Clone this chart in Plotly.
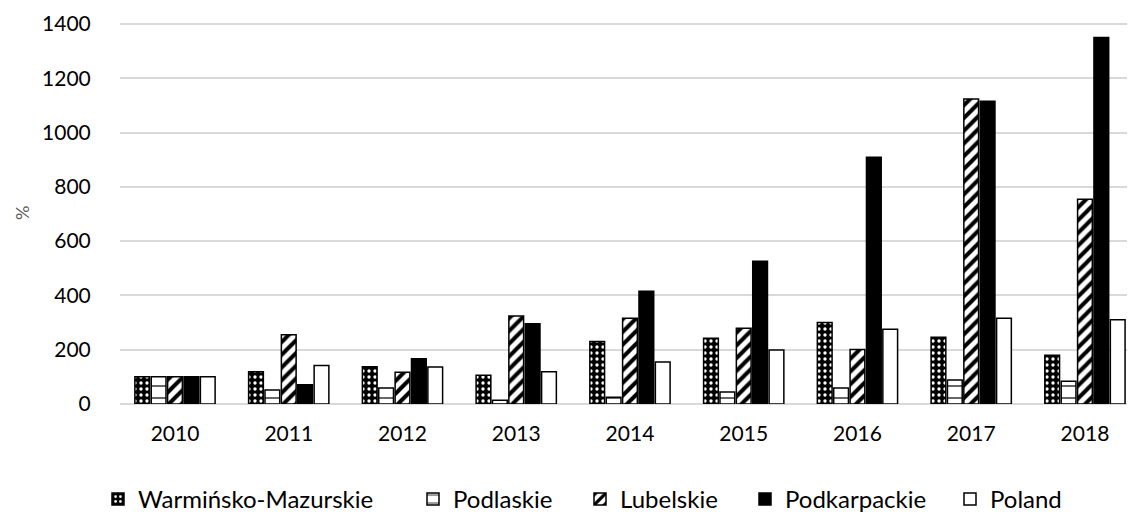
import plotly.graph_objects as go

years = ["2010", "2011", "2012", "2013", "2014", "2015", "2016", "2017", "2018"]
warminsko = [100, 119, 137, 106, 230, 242, 300, 246, 180]
podlaskie = [100, 52, 59, 14, 25, 44, 59, 88, 84]
lubelskie = [100, 255, 117, 324, 316, 279, 201, 1124, 754]
podkarpackie = [100, 71, 167, 296, 415, 526, 909, 1115, 1350]
poland = [100, 142, 136, 119, 155, 199, 275, 316, 310]

FONT = "Lato"
PLOT_W = 1015
PLOT_H = 384

series = [
    ("Warmińsko-Mazurskie", warminsko, dict(shape=".", bgcolor="black", fgcolor="white", size=6, solidity=0.25, fillmode="replace"), "black"),
    ("Podlaskie", podlaskie, dict(shape="-", bgcolor="white", fgcolor="black", size=12, solidity=0.1, fillmode="replace"), "white"),
    ("Lubelskie", lubelskie, dict(shape="/", bgcolor="white", fgcolor="black", size=9, solidity=0.45, fillmode="replace"), "white"),
    ("Podkarpackie", podkarpackie, None, "black"),
    ("Poland", poland, None, "white"),
]
# legend text left positions (screen px) of the reference
legend_text_x = [138, 453, 620, 785, 990]
legend_names = ["legend", "legend2", "legend3", "legend4", "legend5"]

fig = go.Figure()
for (name, vals, pat, col), lg in zip(series, legend_names):
    marker = dict(color=col, line=dict(color="black", width=1.5))
    if pat:
        marker["pattern"] = pat
    fig.add_trace(go.Bar(x=list(range(len(years))), y=vals, name=name, marker=marker, legend=lg))

legend_layout = {}
for lg, tx in zip(legend_names, legend_text_x):
    legend_layout[lg] = dict(orientation="h", xanchor="left", x=(tx - 40 - 120) / PLOT_W,
                             y=-0.19, yanchor="top", font=dict(size=24, family=FONT),
                             itemwidth=30, bgcolor="rgba(0,0,0,0)")

fig.update_layout(
    width=1127, height=507,
    margin=dict(l=112, r=0, t=12, b=111, autoexpand=False),
    paper_bgcolor="white", plot_bgcolor="white",
    barmode="group", bargap=0.28, bargroupgap=0.1,
    font=dict(family=FONT, color="black", size=21),
    showlegend=True,
    annotations=[dict(text="%", xref="paper", yref="paper", x=(22 - 120) / PLOT_W, y=(404 - 213) / PLOT_H,
                      xanchor="center", yanchor="middle", textangle=-90, showarrow=False,
                      font=dict(size=18, color="#595959", family=FONT))],
    **legend_layout,
)
fig.update_xaxes(
    tickmode="array", tickvals=list(range(len(years))), ticktext=years,
    range=[-0.4835, 8.44], showgrid=False, zeroline=False, automargin=False,
    showline=False, ticks="outside", ticklen=11, tickcolor="rgba(0,0,0,0)",
    tickfont=dict(size=21),
)
fig.update_yaxes(
    range=[0, 1414.7], tickvals=[0, 200, 400, 600, 800, 1000, 1200, 1400],
    showgrid=True, gridcolor="#d9d9d9", gridwidth=1.5, automargin=False,
    zeroline=True, zerolinecolor="#d9d9d9", zerolinewidth=1.5,
    ticks="outside", ticklen=24, tickcolor="rgba(0,0,0,0)",
    tickfont=dict(size=21),
)

fig.write_html("out.html")
